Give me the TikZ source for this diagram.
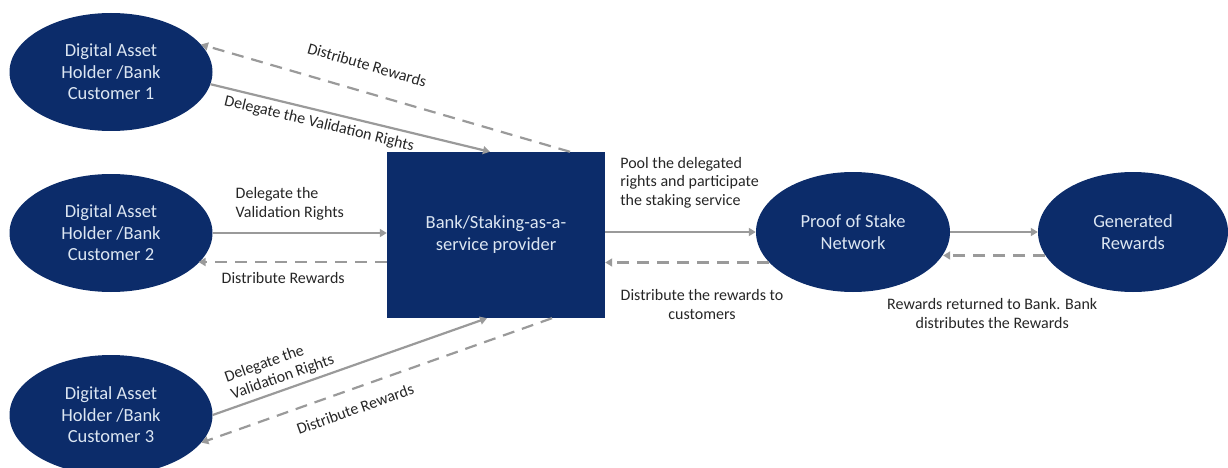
\documentclass[tikz,border=0pt]{standalone}
\usepackage{fontspec}
\setmainfont{Carlito}
\usetikzlibrary{shapes.geometric,arrows.meta,positioning}

\definecolor{navy}{HTML}{0C2C6A}
\definecolor{nodetext}{HTML}{DCE6F2}
\definecolor{arrowgray}{HTML}{9A9A9A}
\definecolor{lbltext}{HTML}{262626}

\tikzset{
    party/.style={ellipse, fill=navy, text=nodetext, minimum width=203pt,
        minimum height=118pt, inner sep=0pt, align=center,
        font=\fontsize{18.5}{21.5}\selectfont},
    provider/.style={rectangle, fill=navy, text=nodetext, minimum width=218pt,
        minimum height=166pt, align=center, font=\fontsize{18.5}{22}\selectfont},
    flow/.style={draw=arrowgray, line width=2.2pt, -{Triangle[length=7pt,width=8pt]}},
    back/.style={flow, dash pattern=on 12pt off 8pt},
    lbl/.style={font=\fontsize{16}{18.5}\selectfont, text=lbltext, inner sep=1pt}
}

\begin{document}
\begin{tikzpicture}[x=1pt,y=-1pt]
    \useasboundingbox (0,0) rectangle (1228,468);

    % asset holders
    \node[party] (cust1) at (111,72) {Digital Asset\\Holder /Bank\\Customer 1};
    \node[party] (cust2) at (111,233) {Digital Asset\\Holder /Bank\\Customer 2};
    \node[party, minimum height=120pt] (cust3) at (111,415) {Digital Asset\\Holder /Bank\\Customer 3};

    % provider, network and rewards
    \node[provider] (bank) at (496,235) {Bank/Staking-as-a-\\service provider};
    \node[party, minimum width=194pt, minimum height=120pt] (pos) at (853,232) {Proof of Stake\\Network};
    \node[party, minimum width=190pt, minimum height=120pt] (gen) at (1133,232) {Generated\\Rewards};

    % customer 1
    \draw[flow] (cust1.-7) -- ([xshift=-6pt]bank.north)
        node[lbl, sloped, below=4pt, pos=0.4] {Delegate the Validation Rights};
    \draw[back] ([xshift=74pt]bank.north) -- (cust1.17)
        node[lbl, sloped, above=19pt, pos=0.57] {Distribute Rewards};

    % customer 2
    \draw[flow] (cust2.east) -- (cust2.east -| bank.west)
        node[lbl, align=left, anchor=south west, pos=0.12, yshift=11pt] {Delegate the\\Validation Rights};
    \coordinate (dr2) at ([yshift=-27pt]bank.west);
    \draw[back] (dr2) -- (dr2 -| cust2.-19)
        node[lbl, below=8pt, pos=0.55] {Distribute Rewards};

    % customer 3
    \draw[flow] (cust3.0) -- ([xshift=-9pt]bank.south)
        node[lbl, sloped, above=3pt, pos=0.27, align=left] {Delegate the\\Validation Rights};
    \draw[back] ([xshift=56pt]bank.south) -- (cust3.-17)
        node[lbl, sloped, below=12pt, pos=0.58] {Distribute Rewards};

    % provider and network
    \draw[flow] (pos.west -| bank.east) -- (pos.west)
        node[lbl, align=left, anchor=south west, pos=0, xshift=13pt, yshift=22pt]
        {Pool the delegated\\rights and participate\\the staking service};
    \coordinate (dr4) at (pos.200);
    \draw[back] (dr4) -- (dr4 -| bank.east)
        node[lbl, align=center, below=25pt, pos=0.41] {Distribute the rewards to\\customers};

    % network and rewards
    \draw[flow] (pos.east) -- (gen.west);
    \coordinate (dr5) at (gen.195);
    \draw[back] (dr5) -- (dr5 -| pos.-14)
        node[lbl, align=center, below=41pt, pos=0.52] {Rewards returned to Bank. Bank\\distributes the Rewards};
\end{tikzpicture}
\end{document}
